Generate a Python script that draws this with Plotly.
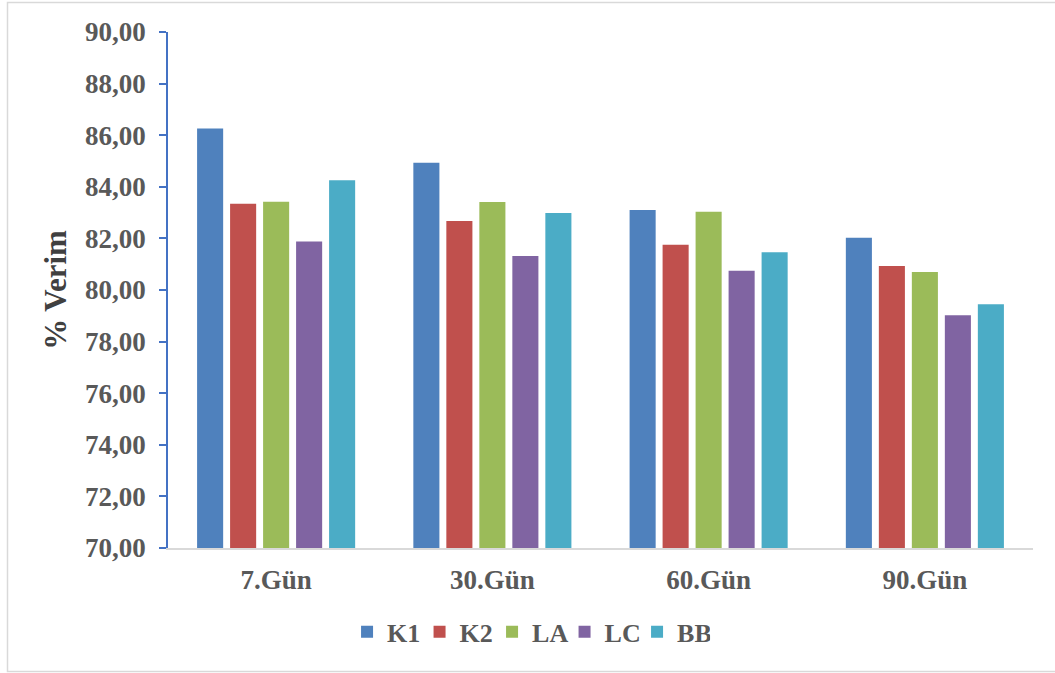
import plotly.graph_objects as go

# Storage days and yield (%) per treatment group
days = ["7.Gün", "30.Gün", "60.Gün", "90.Gün"]
k1 = [86.26, 84.93, 83.10, 82.03]
k2 = [83.34, 82.67, 81.75, 80.93]
la = [83.42, 83.41, 83.03, 80.70]
lc = [81.88, 81.32, 80.75, 79.02]
bb = [84.25, 82.98, 81.46, 79.45]

series = [
    ("K1", k1, "#4F81BD"),
    ("K2", k2, "#C0504D"),
    ("LA", la, "#9BBB59"),
    ("LC", lc, "#8064A2"),
    ("BB", bb, "#4BACC6"),
]

y_ticks = [70, 72, 74, 76, 78, 80, 82, 84, 86, 88, 90]

W, H = 1055, 673
ML, MR, MT, MB = 168, 22, 32, 125

FONT = "Liberation Serif, Times New Roman, serif"
GREY = "#595959"

fig = go.Figure()
for name, vals, col in series:
    fig.add_trace(go.Bar(
        name=name, x=days, y=vals,
        marker=dict(color=col, line=dict(width=0)),
    ))

fig.update_layout(
    width=W, height=H,
    margin=dict(l=ML, r=MR, t=MT, b=MB, autoexpand=False),
    paper_bgcolor="white", plot_bgcolor="white",
    barmode="group", bargap=0.237, bargroupgap=0.21,
    separators=", ",
    font=dict(family=FONT, color=GREY, size=27, weight="bold"),
    showlegend=True,
    legend=dict(
        orientation="h", xref="container", yref="container",
        x=0.501, xanchor="center", y=0.061, yanchor="middle",
        font=dict(family=FONT, size=26, color=GREY, weight="bold"),
        itemwidth=30, tracegroupgap=0, itemclick=False,
        entrywidth=27.5,
    ),
)

fig.update_yaxes(
    range=[70, 90], tickvals=y_ticks, tickformat=".2f",
    showgrid=False, zeroline=False,
    showline=True, linecolor="#4472C4", linewidth=1.6,
    ticks="outside", ticklen=7, tickcolor="#4472C4", tickwidth=1.6,
    tickfont=dict(family=FONT, size=27, color=GREY, weight="bold"),
    ticklabelstandoff=8,
    title=dict(text="% Verim", standoff=9,
               font=dict(family=FONT, size=31, color="#404040", weight="bold")),
    fixedrange=True,
)
fig.update_xaxes(
    showgrid=False, zeroline=False,
    showline=True, linecolor="#D9D9D9", linewidth=1.5,
    ticks="", tickfont=dict(family=FONT, size=27, color=GREY, weight="bold"),
    ticklabelstandoff=7,
    fixedrange=True,
)

# Light grey chart frame
pw, ph = W - ML - MR, H - MT - MB
def px_x(p):
    return (p - ML) / pw
def px_y(p):
    return (H - MB - p) / ph
fig.add_shape(type="rect", xref="paper", yref="paper",
              x0=px_x(7.5), x1=px_x(1060), y0=px_y(671.5), y1=px_y(2.5),
              line=dict(color="#D9D9D9", width=1.5), fillcolor="rgba(0,0,0,0)",
              layer="below")

fig.write_html("out.html")
